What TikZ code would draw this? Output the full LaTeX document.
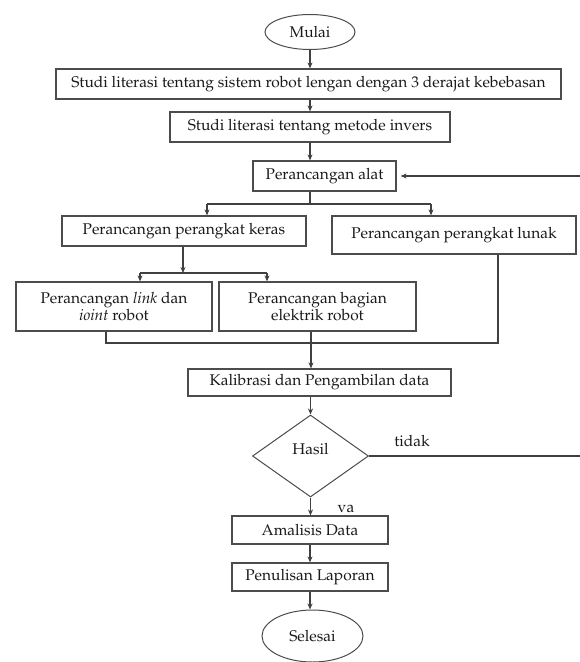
\documentclass[tikz,border=0pt]{standalone}
\usepackage[T1]{fontenc}
\usepackage{mathpazo}
\usetikzlibrary{shapes.geometric,arrows.meta}
\begin{document}
\begin{tikzpicture}[x=1pt,y=-1pt,
  every node/.style={font=\fontsize{15.5}{18}\selectfont,text=black!90},
  box/.style={draw=black!70,line width=1.2pt,inner sep=0pt,align=center,fill=white},
  term/.style={ellipse,draw=black!70,line width=1pt,inner sep=0pt},
  dec/.style={diamond,draw=black!70,line width=1pt,inner sep=0pt},
  conn/.style={draw=black!75,line width=1.1pt},
  arr/.style={conn,-{Stealth[length=6pt,width=5pt]}},
  lbl/.style={inner sep=0pt}]
\useasboundingbox (0,0) rectangle (579,662);
\coordinate (ax) at (310,0);
% nodes
\node[term,minimum width=90pt,minimum height=35pt] (mulai) at (310,32) {Mulai};
\node[box,minimum width=505pt,minimum height=30pt] (b1) at (308.5,84) {Studi literasi tentang sistem robot lengan dengan 3 derajat kebebasan};
\node[box,minimum width=280pt,minimum height=30pt] (b2) at (310,127) {Studi literasi tentang metode invers};
\node[box,minimum width=143pt,minimum height=30pt] (b3) at (324.5,176) {Perancangan alat};
\node[box,minimum width=244pt,minimum height=30pt] (hw) at (184,231) {Perancangan perangkat keras};
\node[box,minimum width=244pt,minimum height=38pt] (sw) at (454,235) {Perancangan perangkat lunak};
\node[box,minimum width=196pt,minimum height=49pt] (link) at (114,306.5) {Perancangan \textit{link} dan\\[-1pt] \textit{ioint} robot};
\node[box,minimum width=197pt,minimum height=49pt] (elek) at (317.5,306.5) {Perancangan bagian\\[-1pt] elektrik robot};
\node[box,minimum width=263pt,minimum height=27pt] (kal) at (319.5,382.5) {Kalibrasi dan Pengambilan data};
\node[dec,minimum width=116pt,minimum height=82pt] (hasil) at (310.5,456) {};
\node[lbl] (hasiltxt) at (310.5,449) {Hasil};
\node[box,minimum width=156pt,minimum height=28pt] (amal) at (310,530) {Amalisis Data};
\node[box,minimum width=156pt,minimum height=28pt] (pen) at (310,577) {Penulisan Laporan};
\node[term,minimum width=101pt,minimum height=52pt] (sel) at (312.5,636) {Selesai};
\node[lbl] (tidak) at (412,441) {tidak};
\node[lbl] (ya) at (346,509) {va};
% helper coordinates
\coordinate (s1) at (310,204);
\coordinate (s1l) at (207,204);
\coordinate (s1r) at (431,204);
\coordinate (s2) at (183,273);
\coordinate (s2l) at (140,273);
\coordinate (s2r) at (267,273);
\coordinate (m1) at (106,343);
\coordinate (m2) at (498,343);
\coordinate (fb1) at (583,456);
\coordinate (fb2) at (583,176);
% connectors
\draw[arr] (mulai.south) -- (mulai.south |- b1.north);
\draw[arr] (b1.south -| ax) -- (b2.north -| ax);
\draw[arr] (b2.south -| ax) -- (b3.north -| ax);
\draw[conn] (b3.south -| ax) -- (s1);
\draw[conn] (s1l) -- (s1r);
\draw[arr] (s1l) -- (s1l |- hw.north);
\draw[arr] (s1r) -- (s1r |- sw.north);
\draw[arr] (hw.south -| s2) -- (s2);
\draw[conn] (s2l) -- (s2r);
\draw[arr] (s2l) -- (s2l |- link.north);
\draw[arr] (s2r) -- (s2r |- elek.north);
\draw[conn] (link.south -| m1) -- (m1) -- (m2) -- (sw.south -| m2);
\draw[arr] (elek.south -| 311,0) -- (kal.north -| 311,0);
\draw[arr] (kal.south -| hasil) -- (hasil.north);
\draw[arr] (hasil.south) -- (amal.north -| hasil);
\draw[arr] (amal.south) -- (pen.north);
\draw[arr] (pen.south) -- (pen.south |- sel.north);
\draw[conn] (hasil.east) -- (fb1) -- (fb2);
\draw[arr,shorten >=4pt] (fb2) -- (b3.east);
\end{tikzpicture}
\end{document}
